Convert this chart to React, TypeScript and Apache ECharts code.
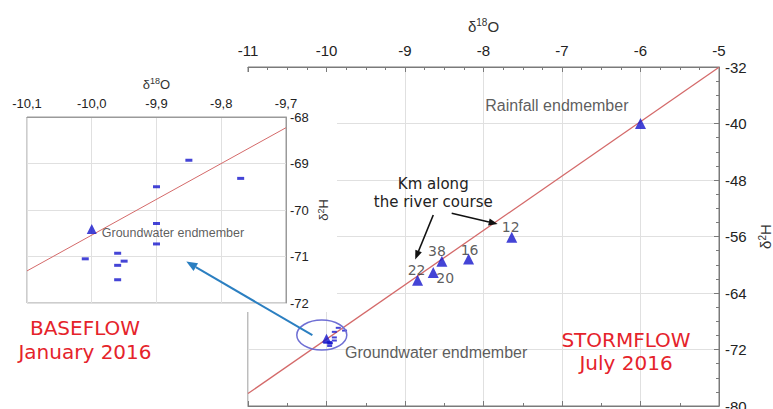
import React, { useEffect, useRef } from "react";
import * as echarts from "echarts";

// ---------- data ----------
const mainXMin = -11;
const mainXMax = -5;
const mainYMin = -80;
const mainYMax = -32;
const insetXMin = -10.1;
const insetXMax = -9.7;
const insetYMin = -72;
const insetYMax = -68;

// water line end points
const waterLineMain = [
  [-11, -78.24],
  [-5, -32.04],
];
const waterLineInset = [
  [-10.1, -71.31],
  [-9.7, -68.23],
];

// stormflow samples (July 2016)
const stormNames = ["Rainfall endmember", "12", "16", "38", "20", "22"];
const stormD18O = [-6.0, -7.64, -8.19, -8.53, -8.64, -8.84];
const stormD2H = [-40.0, -56.1, -59.2, -59.5, -61.1, -62.2];

// groundwater endmember
const gwName = "Groundwater endmember";
const gwD18O = [-10.0];
const gwD2H = [-70.41];

// baseflow samples (January 2016)
const baseD18O = [-9.85, -9.77, -9.9, -9.9, -9.9, -10.01, -9.96, -9.95, -9.96, -9.96];
const baseD2H = [-68.93, -69.32, -69.5, -70.29, -70.73, -71.05, -70.93, -71.1, -71.19, -71.5];

// annotations, in data coordinates of the main plot (except linkTo: inset)
const kmText = "Km along\nthe river course";
const kmTextAt = [-8.64, -49.85];
const kmArrows = [
  [[-8.64, -52.96], [-8.87, -59.24]],
  [[-8.405, -52.72], [-7.82, -54.24]],
];
const circleAt = [-10.06, -69.96];
const linkFrom = [-10.18, -69.96];
const linkTo = [-9.854, -71.11];

const baseflowText = "BASEFLOW\nJanuary 2016";
const stormflowText = "STORMFLOW\nJuly 2016";

// ---------- styles ----------
const SANS = "'Liberation Sans', Arial, sans-serif";
const VERD = "'DejaVu Sans', Verdana, sans-serif";
const BLUE = "#1515cc";
const LINE_RED = "#d46a6a";
const TEXT_RED = "#e5232b";
const AXIS = "#7a7a7a";
const GRID = "#e0e0e0";

const stormLabelOffsets: number[][] = [
  [-12, -18],
  [-1, -10.5],
  [1, -9.5],
  [-5, -10],
  [12, 5],
  [-1, -10],
];

function richName(main: number, sup: number, lh: number) {
  return {
    color: "#333",
    rich: {
      d: { fontSize: main, fontFamily: SANS, color: "#333", lineHeight: lh },
      s: { fontSize: sup, fontFamily: SANS, color: "#333", lineHeight: sup, verticalAlign: "top" },
    },
  };
}

function arrow(p0: number[], p1: number[], color: string, width: number, headLen: number, headHalf: number, z: number) {
  const dx = p1[0] - p0[0];
  const dy = p1[1] - p0[1];
  const len = Math.hypot(dx, dy) || 1;
  const ux = dx / len;
  const uy = dy / len;
  const bx = p1[0] - ux * headLen;
  const by = p1[1] - uy * headLen;
  const nx = -uy;
  const ny = ux;
  return [
    { type: "line", z, shape: { x1: p0[0], y1: p0[1], x2: bx, y2: by }, style: { stroke: color, lineWidth: width } },
    {
      type: "polygon",
      z,
      shape: {
        points: [
          [p1[0], p1[1]],
          [bx + nx * headHalf, by + ny * headHalf],
          [bx - nx * headHalf, by - ny * headHalf],
        ],
      },
      style: { fill: color },
    },
  ];
}

export default function App() {
  const ref = useRef<HTMLDivElement>(null);

  useEffect(() => {
    if (!ref.current) return;
    const chart = echarts.init(ref.current, null, { renderer: "svg" });

    const axisLine = { show: true, onZero: false, lineStyle: { color: AXIS, width: 1 } };

    const stormData = stormNames.map((name, i) => {
      const isRain = i === 0;
      return {
        name,
        value: [stormD18O[i], stormD2H[i]],
        label: {
          show: true,
          formatter: name,
          position: "inside",
          offset: stormLabelOffsets[i],
          align: isRain ? "right" : "center",
          verticalAlign: "middle",
          fontFamily: isRain ? SANS : VERD,
          fontSize: isRain ? 16 : 14,
          color: "#333",
          textBorderWidth: 0,
        },
      };
    });

    const baseData = baseD18O.map((x, i) => [x, baseD2H[i]]);

    const gwMain = gwD18O.map((x, i) => ({
      name: gwName,
      value: [x, gwD2H[i]],
      label: {
        show: true,
        formatter: gwName,
        position: "inside",
        offset: [18.5, 14],
        align: "left",
        verticalAlign: "middle",
        fontFamily: SANS,
        fontSize: 16,
        color: "#333",
        textBorderWidth: 0,
      },
    }));

    const gwInset = gwD18O.map((x, i) => ({
      name: gwName,
      value: [x, gwD2H[i]],
      label: {
        show: true,
        formatter: gwName,
        position: "inside",
        offset: [10, 4],
        align: "left",
        verticalAlign: "middle",
        fontFamily: SANS,
        fontSize: 12.5,
        color: "#333",
        textBorderWidth: 0,
      },
    }));

    const option: any = {
      animation: false,
      backgroundColor: "#ffffff",
      grid: [
        {
          left: 248,
          top: 67,
          right: 54,
          bottom: 3,
          outerBoundsMode: "none",
          containLabel: false,
          show: true,
          borderColor: AXIS,
          borderWidth: 1,
          z: 0,
        },
        {
          left: 27,
          top: 117,
          width: 259,
          height: 186,
          outerBoundsMode: "none",
          containLabel: false,
          show: true,
          borderColor: "#9a9a9a",
          borderWidth: 1,
          backgroundColor: "#ffffff",
          z: 6,
        },
      ],
      xAxis: [
        {
          gridIndex: 0,
          type: "value",
          position: "top",
          min: mainXMin,
          max: mainXMax,
          interval: 1,
          z: 1,
          axisLine,
          axisTick: { show: true, inside: true, length: 5, lineStyle: { color: AXIS } },
          minorTick: { show: true, splitNumber: 4, length: 3, lineStyle: { color: AXIS } },
          axisLabel: { fontSize: 15, fontFamily: SANS, color: "#222", margin: 9 },
          splitLine: { show: true, lineStyle: { color: GRID, width: 1 } },
          name: "{d|δ}{s|18}{d|O}",
          nameLocation: "middle",
          nameGap: 32,
          nameTextStyle: richName(15, 10, 18),
        },
        {
          gridIndex: 0,
          type: "value",
          position: "bottom",
          min: mainXMin,
          max: mainXMax,
          interval: 1,
          z: 1,
          axisLine,
          axisTick: { show: true, inside: true, length: 5, lineStyle: { color: AXIS } },
          minorTick: { show: true, splitNumber: 2, length: 3, lineStyle: { color: AXIS } },
          axisLabel: { show: false },
          splitLine: { show: false },
        },
        {
          gridIndex: 1,
          type: "value",
          position: "top",
          min: insetXMin,
          max: insetXMax,
          interval: 0.1,
          z: 7,
          axisLine: { show: true, onZero: false, lineStyle: { color: "#9a9a9a" } },
          axisTick: { show: false },
          axisLabel: {
            fontSize: 13,
            fontFamily: SANS,
            color: "#222",
            margin: 7,
            formatter: (v: number) => v.toFixed(1).replace(".", ","),
          },
          splitLine: { show: true, lineStyle: { color: GRID, width: 1 } },
          name: "{d|δ}{s|18}{d|O}",
          nameLocation: "middle",
          nameGap: 25,
          nameTextStyle: richName(13, 9, 16),
        },
      ],
      yAxis: [
        {
          gridIndex: 0,
          type: "value",
          position: "right",
          min: mainYMin,
          max: mainYMax,
          interval: 8,
          z: 1,
          axisLine,
          axisTick: { show: true, inside: true, length: 5, lineStyle: { color: AXIS } },
          minorTick: { show: true, splitNumber: 4, length: 3, lineStyle: { color: AXIS } },
          axisLabel: { fontSize: 15, fontFamily: SANS, color: "#222", margin: 6 },
          splitLine: { show: true, lineStyle: { color: GRID, width: 1 } },
          name: "{d|δ}{s|2}{d|H}",
          nameLocation: "middle",
          nameRotate: 90,
          nameGap: 37,
          nameTextStyle: richName(15, 10, 15),
        },
        {
          gridIndex: 1,
          type: "value",
          position: "right",
          min: insetYMin,
          max: insetYMax,
          interval: 1,
          z: 7,
          axisLine: { show: true, onZero: false, lineStyle: { color: "#9a9a9a" } },
          axisTick: { show: false },
          axisLabel: { fontSize: 13, fontFamily: SANS, color: "#222", margin: 4 },
          splitLine: { show: true, lineStyle: { color: GRID, width: 1 } },
          name: "{d|δ}{s|2}{d|H}",
          nameLocation: "middle",
          nameRotate: 90,
          nameGap: 30,
          nameTextStyle: richName(13, 9, 14),
        },
      ],
      series: [
        {
          type: "line",
          xAxisIndex: 0,
          yAxisIndex: 0,
          data: waterLineMain,
          symbol: "none",
          silent: true,
          lineStyle: { color: LINE_RED, width: 1.3 },
          z: 2,
        },
        {
          type: "scatter",
          xAxisIndex: 0,
          yAxisIndex: 0,
          symbol: "rect",
          symbolSize: [5, 2],
          itemStyle: { color: BLUE },
          data: baseData,
          z: 3,
        },
        {
          type: "scatter",
          xAxisIndex: 0,
          yAxisIndex: 0,
          symbol: "triangle",
          symbolSize: 9,
          itemStyle: { color: BLUE },
          data: gwMain,
          z: 3,
        },
        {
          type: "scatter",
          xAxisIndex: 0,
          yAxisIndex: 0,
          symbol: "triangle",
          symbolSize: 11,
          itemStyle: { color: BLUE },
          data: stormData,
          z: 3,
        },
        {
          type: "line",
          xAxisIndex: 2,
          yAxisIndex: 1,
          data: waterLineInset,
          symbol: "none",
          silent: true,
          lineStyle: { color: LINE_RED, width: 1 },
          z: 8,
        },
        {
          type: "scatter",
          xAxisIndex: 2,
          yAxisIndex: 1,
          symbol: "rect",
          symbolSize: [7, 3],
          itemStyle: { color: BLUE },
          data: baseData,
          z: 8,
        },
        {
          type: "scatter",
          xAxisIndex: 2,
          yAxisIndex: 1,
          symbol: "triangle",
          symbolSize: 10,
          itemStyle: { color: BLUE },
          data: gwInset,
          z: 8,
        },
      ],
    };

    chart.setOption(option);

    const toMain = (p: number[]) => chart.convertToPixel({ xAxisIndex: 0, yAxisIndex: 0 } as any, p) as number[];
    const toInset = (p: number[]) => chart.convertToPixel({ xAxisIndex: 2, yAxisIndex: 1 } as any, p) as number[];

    const elements: any[] = [];
    // white panel behind the inset, hiding the main grid there
    elements.push({ type: "rect", z: 5, shape: { x: 0, y: 72, width: 337, height: 240 }, style: { fill: "#ffffff" } });

    const c = toMain(circleAt);
    elements.push({
      type: "ellipse",
      z: 9,
      shape: { cx: c[0], cy: c[1], rx: 25, ry: 15 },
      style: { fill: "none", stroke: "#6f6fd4", lineWidth: 1.5 },
    });

    elements.push(...arrow(toMain(linkFrom), toInset(linkTo), "#2b7fc1", 2, 11, 4.5, 10));
    kmArrows.forEach((a) => {
      elements.push(...arrow(toMain(a[0]), toMain(a[1]), "#111111", 1.6, 9, 3.5, 10));
    });

    const k = toMain(kmTextAt);
    elements.push({
      type: "text",
      z: 10,
      x: k[0],
      y: k[1],
      style: {
        text: kmText,
        fontFamily: VERD,
        fontSize: 15,
        lineHeight: 18,
        fill: "#222",
        align: "center",
        verticalAlign: "middle",
      },
    });

    elements.push({
      type: "text",
      z: 10,
      x: 85,
      y: 340,
      style: {
        text: baseflowText,
        fontFamily: VERD,
        fontSize: 20,
        lineHeight: 24,
        fill: TEXT_RED,
        align: "center",
        verticalAlign: "middle",
      },
    });
    elements.push({
      type: "text",
      z: 10,
      x: 626,
      y: 351.5,
      style: {
        text: stormflowText,
        fontFamily: VERD,
        fontSize: 20,
        lineHeight: 23,
        fill: TEXT_RED,
        align: "center",
        verticalAlign: "middle",
      },
    });

    chart.setOption({ graphic: { elements } });

    return () => {
      chart.dispose();
    };
  }, []);

  return (
    <div
      ref={ref}
      style={{ position: "absolute", left: 0, top: 0, width: 773, height: 409, background: "#fff" }}
    />
  );
}
